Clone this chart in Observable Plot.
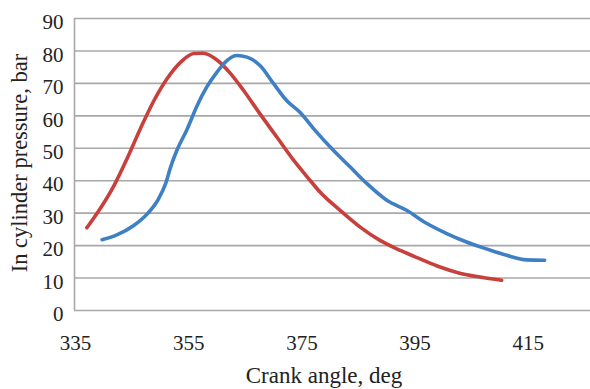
<!DOCTYPE html>
<html>
<head>
<meta charset="utf-8">
<script src="https://cdn.jsdelivr.net/npm/d3@7"></script>
<script src="https://cdn.jsdelivr.net/npm/@observablehq/plot@0.6"></script>
<style>
  html, body { margin: 0; padding: 0; background: #fff; }
  #chart svg { display: block; }
</style>
</head>
<body>
<div id="chart"></div>
<script>
const xTicks = [335, 355, 375, 395, 415];
const yTicks = [0, 10, 20, 30, 40, 50, 60, 70, 80, 90];
const xTitle = "Crank angle, deg";
const yTitle = "In cylinder pressure, bar";

const redAngle = [337.0, 339.4, 341.8, 344.1, 346.5, 348.8, 351.2, 353.5, 355.9, 357.6, 360.0, 362.4, 364.7, 367.6, 370.6, 373.5, 376.5, 378.2, 381.8, 385.3, 388.8, 392.4, 395.9, 399.4, 402.9, 406.5, 410.3];
const redPressure = [25.5, 31.5, 38.5, 46.8, 56.2, 64.5, 71.5, 76.4, 79.2, 79.3, 77.2, 73.0, 67.8, 60.6, 53.4, 46.4, 40.0, 36.5, 30.8, 25.7, 21.6, 18.5, 15.9, 13.4, 11.5, 10.3, 9.3];

const blueAngle = [339.7, 342.4, 345.3, 347.8, 349.7, 350.9, 351.8, 352.9, 354.7, 356.5, 358.2, 360.0, 361.8, 363.5, 365.3, 367.6, 370.0, 372.3, 374.7, 377.1, 380.6, 383.5, 386.5, 390.0, 393.5, 397.1, 400.6, 404.1, 407.6, 411.2, 414.7, 417.9];
const bluePressure = [21.8, 23.4, 26.2, 30.0, 34.5, 39.0, 44.2, 49.3, 55.8, 63.2, 68.9, 73.5, 77.1, 78.6, 78.1, 75.5, 69.9, 64.7, 61.0, 56.0, 49.3, 44.3, 39.1, 34.0, 30.9, 26.8, 23.7, 21.1, 19.0, 17.0, 15.6, 15.5];

const red = redAngle.map((a, i) => ({angle: a, p: redPressure[i]}));
const blue = blueAngle.map((a, i) => ({angle: a, p: bluePressure[i]}));

const font = "'Liberation Serif', 'Times New Roman', serif";

const plot = Plot.plot({
  width: 590,
  height: 389,
  marginLeft: 74,
  marginRight: 0,
  marginTop: 18,
  marginBottom: 79,
  style: {fontFamily: font, fontSize: "21px", color: "#222", background: "#fff"},
  x: {domain: [334.82, 426]},
  y: {domain: [0, 90]},
  marks: [
    Plot.ruleY(yTicks, {stroke: "#a8a8a8", strokeWidth: 1.6}),
    Plot.ruleX([334.82], {stroke: "#a8a8a8", strokeWidth: 1.6}),
    Plot.axisX(xTicks, {tickSize: 0, tickPadding: 25, label: null, fontSize: 21}),
    Plot.axisY(yTicks, {tickSize: 0, tickPadding: 11, dy: 4, label: null, fontSize: 21}),
    Plot.line(red, {x: "angle", y: "p", stroke: "#c8403c", strokeWidth: 3.6, curve: "monotone-x"}),
    Plot.line(blue, {x: "angle", y: "p", stroke: "#3f80c4", strokeWidth: 3.6, curve: "monotone-x"}),
    Plot.text([xTitle], {text: d => d, frameAnchor: "bottom", dy: 65, dx: -8.5, lineAnchor: "middle", textAnchor: "middle", fontSize: 23}),
    Plot.text([yTitle], {text: d => d, frameAnchor: "left", dx: -55, dy: -1.5, rotate: -90, lineAnchor: "middle", textAnchor: "middle", fontSize: 22.5})
  ]
});
document.getElementById("chart").appendChild(plot);
</script>
</body>
</html>
